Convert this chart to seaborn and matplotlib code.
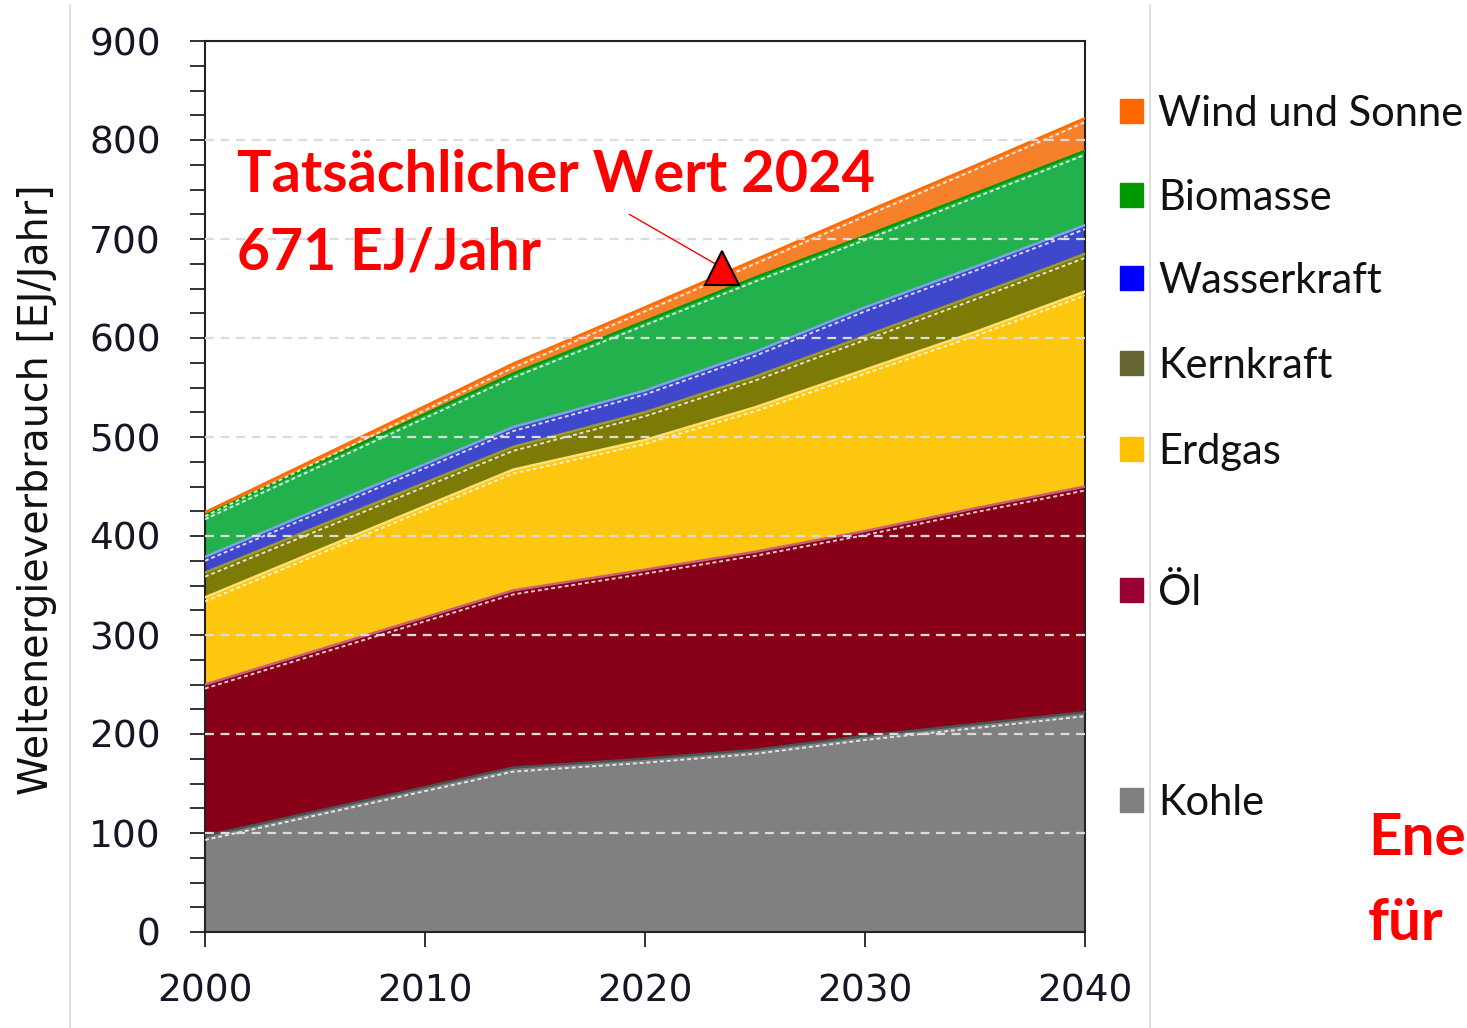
import numpy as np
import pandas as pd
import matplotlib
matplotlib.use("Agg")
import matplotlib.pyplot as plt
import matplotlib.transforms as mtransforms
from matplotlib.lines import Line2D
from matplotlib.patches import Rectangle
from matplotlib.ticker import MultipleLocator
import seaborn as sns

# ---------------- data ----------------
years = [2000, 2014, 2020, 2025, 2030, 2035, 2040]
kohle = [97, 166, 175, 184, 198, 210, 222]
oel = [153, 179, 191, 200, 207, 218, 228]
erdgas = [88, 122, 131, 146, 163, 178, 197]
kernkraft = [25, 23, 28, 31, 34, 37, 38]
wasserkraft = [16, 20, 22, 25, 29, 29, 29]
biomasse = [42, 54, 70, 75, 72, 74, 75]
wind_sonne = [3, 10, 14, 18, 24, 28, 33]

series_names = ["Kohle", "Öl", "Erdgas", "Kernkraft", "Wasserkraft", "Biomasse", "Wind und Sonne"]
legend_order = ["Wind und Sonne", "Biomasse", "Wasserkraft", "Kernkraft", "Erdgas", "Öl", "Kohle"]

actual_year = 2023.5
actual_value = 671
annotation_text = "Tatsächlicher Wert 2024\n671 EJ/Jahr"
side_text = ["Ene", "für"]
y_label = "Weltenergieverbrauch [EJ/Jahr]"
x_ticks = [2000, 2010, 2020, 2030, 2040]
y_ticks = list(range(0, 901, 100))

# ---------------- styles ----------------
fill_colors = {"Kohle": "#808080", "Öl": "#880018", "Erdgas": "#FEC70F", "Kernkraft": "#7D7A05",
               "Wasserkraft": "#3F48CC", "Biomasse": "#22B14C", "Wind und Sonne": "#F7802A"}
edge_colors = {"Kohle": "#4A5555", "Öl": "#C8607A", "Erdgas": "#FFE070", "Kernkraft": "#9A9A30",
               "Wasserkraft": "#7AA6E8", "Biomasse": "#009A00", "Wind und Sonne": "#FF6A00"}
legend_colors = {"Wind und Sonne": "#FF6600", "Biomasse": "#009900", "Wasserkraft": "#0000FF",
                 "Kernkraft": "#666633", "Erdgas": "#FFC000", "Öl": "#990033", "Kohle": "#808080"}
legend_y_px = {"Wind und Sonne": 111, "Biomasse": 195, "Wasserkraft": 278, "Kernkraft": 363,
               "Erdgas": 449, "Öl": 590, "Kohle": 800}

sns.set_theme(style="white")
plt.rcParams['font.family'] = ['DejaVu Sans']

W, H = 1467, 1028
fig = plt.figure(figsize=(W / 100, H / 100), dpi=100)
fig.patch.set_facecolor("white")


def fx(px):
    return px / W


def fy(py):
    return 1 - py / H


ax = fig.add_axes([fx(205), fy(932), 880 / W, 891 / H])

values = [kohle, oel, erdgas, kernkraft, wasserkraft, biomasse, wind_sonne]
ax.stackplot(years, *values, colors=[fill_colors[n] for n in series_names], lw=0, zorder=1)

cum = np.cumsum(np.array(values, dtype=float), axis=0)
df = pd.DataFrame([
    {"year": y, "top": cum[i, j], "name": n}
    for i, n in enumerate(series_names) for j, y in enumerate(years)
])
sns.lineplot(data=df, x="year", y="top", hue="name", palette=edge_colors, lw=1.8,
             legend=False, ax=ax, zorder=3, estimator=None, sort=False)

off = mtransforms.offset_copy(ax.transData, fig=fig, x=0, y=-4, units="dots")
for i, n in enumerate(series_names):
    ax.plot(years, cum[i], color="white", lw=1.4, ls=(0, (2, 1.5)), alpha=0.8,
            transform=off, zorder=3)

# dashed grid over the areas
for v in y_ticks[1:-1]:
    ax.axhline(v, color="#dcdcdc", lw=1.6, ls=(0, (4, 3)), zorder=4)

ax.set_xlim(2000, 2040)
ax.set_ylim(0, 900)
ax.set_xticks(x_ticks)
ax.set_yticks(y_ticks)
ax.yaxis.set_minor_locator(MultipleLocator(25))
ax.tick_params(axis="both", which="both", direction="out", length=10.8, width=1.3, color="#222222")
ax.tick_params(axis="y", which="both", left=True)
ax.tick_params(axis="x", which="major", bottom=True)
ax.tick_params(axis="y", which="major", pad=21, labelsize=27, labelcolor="#151525")
ax.tick_params(axis="x", which="major", pad=19, labelsize=27, labelcolor="#151525")
for s in ax.spines.values():
    s.set_color("#222222")
    s.set_linewidth(1.5)
    s.set_visible(True)
ax.set_xlabel("")
ax.set_ylabel("")
ax.grid(False)

fig.text(fx(37), fy(490), y_label, rotation=90, ha="center", va="center",
         fontsize=28.5, family=["Liberation Sans Narrow", "DejaVu Sans"], color="#111111")

# annotation
ax.plot([actual_year], [actual_value], marker="^", ms=25, color="#FF0000",
        markeredgecolor="black", markeredgewidth=1.5, zorder=6, clip_on=False)
ax.annotate("", xy=(actual_year, actual_value), xycoords="data",
            xytext=(627, H - 213), textcoords="figure pixels",
            arrowprops=dict(arrowstyle="-", color="#FF0000", lw=1), zorder=5)
fig.text(fx(237), fy(192), annotation_text.split("\n")[0], ha="left", va="baseline",
         fontsize=41.5, fontweight="bold", family=["Lato", "DejaVu Sans"], color="#FF0000")
fig.text(fx(237), fy(270), annotation_text.split("\n")[1], ha="left", va="baseline",
         fontsize=41, fontweight="bold", family=["Lato", "DejaVu Sans"], color="#FF0000")

# legend
for n in legend_order:
    yc = legend_y_px[n]
    fig.patches.append(Rectangle((fx(1120), fy(yc + 12)), 23 / W, 24 / H,
                                 transform=fig.transFigure, color=legend_colors[n]))
    fig.text(fx(1158), fy(yc + 15), n, ha="left", va="baseline", fontsize=30,
             family=["Lato", "DejaVu Sans"], color="#111111")

# red text at the right edge (only its visible part, kept inside the figure)
fig.text(fx(1368), fy(855), side_text[0], ha="left", va="baseline", fontsize=42,
         fontweight="bold", family=["Lato", "DejaVu Sans"], color="#FF0000")
fig.text(fx(1368), fy(940), side_text[1], ha="left", va="baseline", fontsize=42,
         fontweight="bold", family=["Lato", "DejaVu Sans"], color="#FF0000")

# frame lines of the slide
fig.add_artist(Line2D([fx(70), fx(70)], [fy(5), 0], color="#d9d9d9", lw=1.2))
fig.add_artist(Line2D([fx(1150), fx(1150)], [fy(5), 0], color="#d9d9d9", lw=1.2))

fig.savefig("out.png", dpi=100, facecolor="white")
